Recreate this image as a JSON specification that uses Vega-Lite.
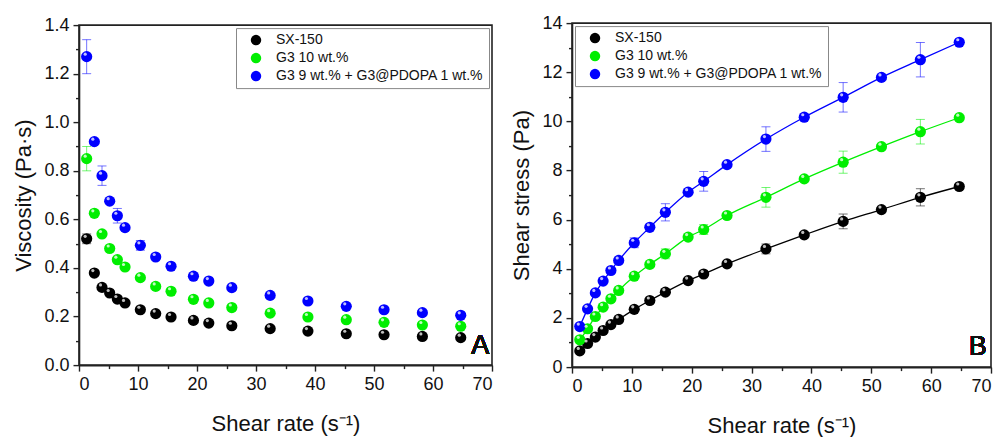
{
  "$schema": "https://vega.github.io/schema/vega-lite/v6.json",
  "padding": {"left": 12, "top": 13, "right": 0, "bottom": 0},
  "background": "white",
  "config": {
    "font": "Liberation Sans",
    "view": {"stroke": "#222", "strokeWidth": 1.6},
    "axis": {
      "grid": false,
      "domainColor": "#222",
      "domainWidth": 1.6,
      "tickColor": "#222",
      "tickWidth": 1.4,
      "labelFont": "Liberation Sans",
      "labelFontSize": 18,
      "labelColor": "#111",
      "titleFont": "Liberation Sans",
      "titleFontSize": 22,
      "titleFontWeight": "normal",
      "titleColor": "#111"
    },
    "legend": {
      "labelFont": "Liberation Sans",
      "labelFontSize": 14,
      "labelColor": "#111",
      "labelLimit": 0,
      "symbolType": "circle",
      "symbolSize": 110,
      "symbolOpacity": 1,
      "symbolStrokeWidth": 0,
      "rowPadding": 4,
      "padding": 5,
      "strokeColor": "#888",
      "fillColor": "white",
      "title": null
    },
    "concat": {"spacing": 16}
  },
  "datasets": {
    "d": [
      {"series": "SX-150", "rate": 1.3, "visc": 0.52, "ve": 0.02, "stress": 0.66, "se": 0},
      {"series": "SX-150", "rate": 2.6, "visc": 0.379, "ve": 0, "stress": 0.96, "se": 0},
      {"series": "SX-150", "rate": 3.9, "visc": 0.32, "ve": 0, "stress": 1.22, "se": 0},
      {"series": "SX-150", "rate": 5.2, "visc": 0.297, "ve": 0, "stress": 1.49, "se": 0},
      {"series": "SX-150", "rate": 6.5, "visc": 0.272, "ve": 0, "stress": 1.73, "se": 0},
      {"series": "SX-150", "rate": 7.8, "visc": 0.256, "ve": 0, "stress": 1.94, "se": 0},
      {"series": "SX-150", "rate": 10.4, "visc": 0.228, "ve": 0, "stress": 2.35, "se": 0},
      {"series": "SX-150", "rate": 13.0, "visc": 0.212, "ve": 0, "stress": 2.71, "se": 0},
      {"series": "SX-150", "rate": 15.6, "visc": 0.198, "ve": 0, "stress": 3.05, "se": 0},
      {"series": "SX-150", "rate": 19.4, "visc": 0.184, "ve": 0, "stress": 3.52, "se": 0},
      {"series": "SX-150", "rate": 22.0, "visc": 0.173, "ve": 0, "stress": 3.79, "se": 0},
      {"series": "SX-150", "rate": 25.9, "visc": 0.162, "ve": 0, "stress": 4.2, "se": 0},
      {"series": "SX-150", "rate": 32.4, "visc": 0.15, "ve": 0, "stress": 4.81, "se": 0.2},
      {"series": "SX-150", "rate": 38.8, "visc": 0.14, "ve": 0, "stress": 5.38, "se": 0},
      {"series": "SX-150", "rate": 45.3, "visc": 0.129, "ve": 0, "stress": 5.93, "se": 0.3},
      {"series": "SX-150", "rate": 51.7, "visc": 0.125, "ve": 0, "stress": 6.41, "se": 0},
      {"series": "SX-150", "rate": 58.2, "visc": 0.118, "ve": 0, "stress": 6.91, "se": 0.35},
      {"series": "SX-150", "rate": 64.7, "visc": 0.113, "ve": 0, "stress": 7.35, "se": 0},
      {"series": "G3 10 wt.%", "rate": 1.3, "visc": 0.85, "ve": 0.05, "stress": 1.11, "se": 0},
      {"series": "G3 10 wt.%", "rate": 2.6, "visc": 0.625, "ve": 0, "stress": 1.56, "se": 0},
      {"series": "G3 10 wt.%", "rate": 3.9, "visc": 0.54, "ve": 0, "stress": 2.06, "se": 0},
      {"series": "G3 10 wt.%", "rate": 5.2, "visc": 0.48, "ve": 0, "stress": 2.44, "se": 0},
      {"series": "G3 10 wt.%", "rate": 6.5, "visc": 0.434, "ve": 0, "stress": 2.78, "se": 0},
      {"series": "G3 10 wt.%", "rate": 7.8, "visc": 0.404, "ve": 0, "stress": 3.12, "se": 0},
      {"series": "G3 10 wt.%", "rate": 10.4, "visc": 0.36, "ve": 0, "stress": 3.7, "se": 0},
      {"series": "G3 10 wt.%", "rate": 13.0, "visc": 0.324, "ve": 0, "stress": 4.18, "se": 0},
      {"series": "G3 10 wt.%", "rate": 15.6, "visc": 0.304, "ve": 0, "stress": 4.61, "se": 0.2},
      {"series": "G3 10 wt.%", "rate": 19.4, "visc": 0.271, "ve": 0, "stress": 5.29, "se": 0},
      {"series": "G3 10 wt.%", "rate": 22.0, "visc": 0.256, "ve": 0, "stress": 5.6, "se": 0.2},
      {"series": "G3 10 wt.%", "rate": 25.9, "visc": 0.237, "ve": 0, "stress": 6.17, "se": 0},
      {"series": "G3 10 wt.%", "rate": 32.4, "visc": 0.214, "ve": 0, "stress": 6.91, "se": 0.4},
      {"series": "G3 10 wt.%", "rate": 38.8, "visc": 0.198, "ve": 0, "stress": 7.66, "se": 0},
      {"series": "G3 10 wt.%", "rate": 45.3, "visc": 0.187, "ve": 0, "stress": 8.34, "se": 0.45},
      {"series": "G3 10 wt.%", "rate": 51.7, "visc": 0.176, "ve": 0, "stress": 8.97, "se": 0},
      {"series": "G3 10 wt.%", "rate": 58.2, "visc": 0.165, "ve": 0, "stress": 9.58, "se": 0.5},
      {"series": "G3 10 wt.%", "rate": 64.7, "visc": 0.16, "ve": 0, "stress": 10.15, "se": 0},
      {"series": "G3 9 wt.% + G3@PDOPA 1 wt.%", "rate": 1.3, "visc": 1.27, "ve": 0.07, "stress": 1.65, "se": 0},
      {"series": "G3 9 wt.% + G3@PDOPA 1 wt.%", "rate": 2.6, "visc": 0.92, "ve": 0, "stress": 2.37, "se": 0},
      {"series": "G3 9 wt.% + G3@PDOPA 1 wt.%", "rate": 3.9, "visc": 0.78, "ve": 0.04, "stress": 3.02, "se": 0},
      {"series": "G3 9 wt.% + G3@PDOPA 1 wt.%", "rate": 5.2, "visc": 0.675, "ve": 0, "stress": 3.5, "se": 0},
      {"series": "G3 9 wt.% + G3@PDOPA 1 wt.%", "rate": 6.5, "visc": 0.615, "ve": 0.03, "stress": 3.93, "se": 0},
      {"series": "G3 9 wt.% + G3@PDOPA 1 wt.%", "rate": 7.8, "visc": 0.566, "ve": 0, "stress": 4.34, "se": 0},
      {"series": "G3 9 wt.% + G3@PDOPA 1 wt.%", "rate": 10.4, "visc": 0.493, "ve": 0.02, "stress": 5.06, "se": 0.2},
      {"series": "G3 9 wt.% + G3@PDOPA 1 wt.%", "rate": 13.0, "visc": 0.445, "ve": 0, "stress": 5.69, "se": 0},
      {"series": "G3 9 wt.% + G3@PDOPA 1 wt.%", "rate": 15.6, "visc": 0.407, "ve": 0, "stress": 6.3, "se": 0.35},
      {"series": "G3 9 wt.% + G3@PDOPA 1 wt.%", "rate": 19.4, "visc": 0.366, "ve": 0, "stress": 7.12, "se": 0},
      {"series": "G3 9 wt.% + G3@PDOPA 1 wt.%", "rate": 22.0, "visc": 0.346, "ve": 0, "stress": 7.56, "se": 0.4},
      {"series": "G3 9 wt.% + G3@PDOPA 1 wt.%", "rate": 25.9, "visc": 0.319, "ve": 0, "stress": 8.24, "se": 0},
      {"series": "G3 9 wt.% + G3@PDOPA 1 wt.%", "rate": 32.4, "visc": 0.287, "ve": 0, "stress": 9.28, "se": 0.5},
      {"series": "G3 9 wt.% + G3@PDOPA 1 wt.%", "rate": 38.8, "visc": 0.264, "ve": 0, "stress": 10.17, "se": 0},
      {"series": "G3 9 wt.% + G3@PDOPA 1 wt.%", "rate": 45.3, "visc": 0.242, "ve": 0, "stress": 10.98, "se": 0.6},
      {"series": "G3 9 wt.% + G3@PDOPA 1 wt.%", "rate": 51.7, "visc": 0.228, "ve": 0, "stress": 11.79, "se": 0},
      {"series": "G3 9 wt.% + G3@PDOPA 1 wt.%", "rate": 58.2, "visc": 0.216, "ve": 0, "stress": 12.51, "se": 0.7},
      {"series": "G3 9 wt.% + G3@PDOPA 1 wt.%", "rate": 64.7, "visc": 0.205, "ve": 0, "stress": 13.22, "se": 0}
    ]
  },
  "resolve": {"legend": {"color": "independent"}, "scale": {"color": "independent"}},
  "center": true,
  "hconcat": [
    {
      "width": 413,
      "height": 340,
      "data": {"name": "d"},
      "encoding": {
        "x": {"field": "rate", "type": "quantitative", "scale": {"domain": [0, 70]},
          "title": "Shear rate (s⁻¹)",
          "axis": {"values": [0,5,10,15,20,25,30,35,40,45,50,55,60,65,70],
            "labelExpr": "datum.value % 10 === 0 ? datum.label : ''",
            "tickSize": {"condition": {"test": "datum.value % 10 === 0", "value": 6}, "value": 3.5},
            "labelPadding": 4, "titlePadding": 20}},
        "y": {"field": "visc", "type": "quantitative", "scale": {"domain": [0, 1.4]},
          "title": "Viscosity (Pa·s)",
          "axis": {"values": [0,0.1,0.2,0.3,0.4,0.5,0.6,0.7,0.8,0.9,1.0,1.1,1.2,1.3,1.4],
            "format": ".1f",
            "labelExpr": "round(datum.value*10) % 2 === 0 ? datum.label : ''",
            "tickSize": {"condition": {"test": "round(datum.value*10) % 2 === 0", "value": 6}, "value": 3.5},
            "labelPadding": 4, "titlePadding": 8}},
        "color": {"field": "series", "type": "nominal",
          "scale": {"domain": ["SX-150", "G3 10 wt.%", "G3 9 wt.% + G3@PDOPA 1 wt.%"], "range": ["#000000", "#00ee00", "#0000ff"]},
          "legend": {"orient": "top-right", "offset": 3, "symbolOffset": 8, "labelOffset": 13}}
      },
      "layer": [
        {
          "transform": [{"filter": "datum.ve > 0"}],
          "mark": {"type": "errorbar", "ticks": {"size": 9}, "thickness": 1, "opacity": 0.55},
          "encoding": {
            "yError": {"field": "ve"}
          }
        },
        {
          "mark": {"type": "point", "filled": true, "size": 125, "opacity": 1}
        },
        {
          "mark": {"type": "point", "filled": true, "size": 10, "opacity": 0.75, "xOffset": -1.5, "yOffset": -2.5},
          "encoding": {"color": {"value": "white"}}
        },
        {
          "mark": {"type": "text", "text": "A", "fontSize": 27, "align": "center", "baseline": "bottom", "color": "#111"},
          "encoding": {"x": {"datum": 68}, "y": {"datum": 0.02}, "color": {"value": "#111"}}
        }
      ]
    },
    {
      "width": 419,
      "height": 344,
      "data": {"name": "d"},
      "encoding": {
        "x": {"field": "rate", "type": "quantitative", "scale": {"domain": [0, 70]},
          "title": "Shear rate (s⁻¹)",
          "axis": {"values": [0,5,10,15,20,25,30,35,40,45,50,55,60,65,70],
            "labelExpr": "datum.value % 10 === 0 ? datum.label : ''",
            "tickSize": {"condition": {"test": "datum.value % 10 === 0", "value": 6}, "value": 3.5},
            "labelPadding": 4, "titlePadding": 20}},
        "y": {"field": "stress", "type": "quantitative", "scale": {"domain": [0, 14]},
          "title": "Shear stress (Pa)",
          "axis": {"values": [0,1,2,3,4,5,6,7,8,9,10,11,12,13,14],
            "labelExpr": "datum.value % 2 === 0 ? datum.label : ''",
            "tickSize": {"condition": {"test": "datum.value % 2 === 0", "value": 6}, "value": 3.5},
            "labelPadding": 4, "titlePadding": 8}},
        "color": {"field": "series", "type": "nominal",
          "scale": {"domain": ["SX-150", "G3 10 wt.%", "G3 9 wt.% + G3@PDOPA 1 wt.%"], "range": ["#000000", "#00ee00", "#0000ff"]},
          "legend": {"orient": "top-left", "offset": 3, "symbolOffset": 8, "labelOffset": 13}}
      },
      "layer": [
        {
          "mark": {"type": "line", "interpolate": "monotone", "strokeWidth": 1.3}
        },
        {
          "transform": [{"filter": "datum.se > 0"}],
          "mark": {"type": "errorbar", "ticks": {"size": 9}, "thickness": 1, "opacity": 0.55},
          "encoding": {
            "yError": {"field": "se"}
          }
        },
        {
          "mark": {"type": "point", "filled": true, "size": 125, "opacity": 1}
        },
        {
          "mark": {"type": "point", "filled": true, "size": 10, "opacity": 0.75, "xOffset": -1.5, "yOffset": -2.5},
          "encoding": {"color": {"value": "white"}}
        },
        {
          "mark": {"type": "text", "text": "B", "fontSize": 27, "align": "center", "baseline": "bottom", "color": "#111"},
          "encoding": {"x": {"datum": 67.8}, "y": {"datum": 0.25}, "color": {"value": "#111"}}
        }
      ]
    }
  ]
}
